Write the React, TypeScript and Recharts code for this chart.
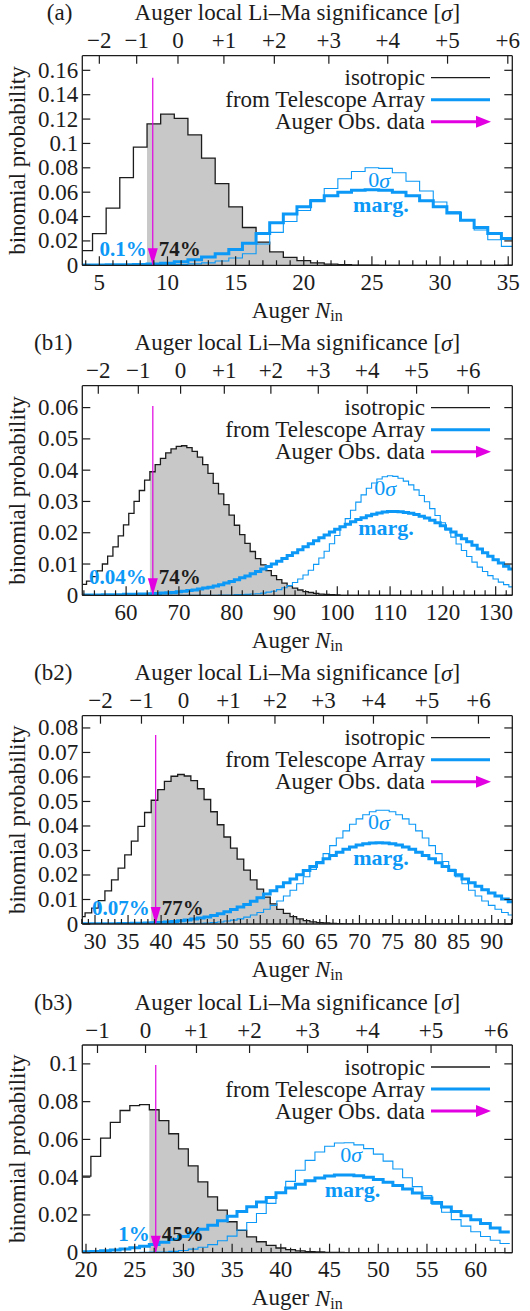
import React from 'react';
import {
  ComposedChart,
  Line,
  Area,
  XAxis,
  YAxis,
  ReferenceLine,
  ReferenceDot,
  Legend,
} from 'recharts';

const FONT = '"Liberation Serif", "Times New Roman", serif';
const INK = '#1c1c1c';
const BLUE = '#0b98f6';
const MAGENTA = '#e200e2';
const GREY = '#c8c8c8';
const W = 530;

// consecutive integer bins / tick positions
const span = (a: number, b: number, step = 1) => {
  const out: number[] = [];
  for (let v = a; v <= b; v += step) out.push(v);
  return out;
};

// ---------- (a) ----------
const binsA = span(4, 35);
const isoA = [
  0.012, 0.026, 0.047, 0.072, 0.097, 0.116, 0.124, 0.1205, 0.107, 0.088,
  0.067, 0.048, 0.031, 0.019, 0.011, 0.0065, 0.0038, 0.002, 0.001, 0.0005,
  0.0002, 0.0001, 0, 0, 0, 0, 0, 0, 0, 0,
  0, 0,
];
const margA = [
  0.0002, 0.0003, 0.0004, 0.0005, 0.0007, 0.001, 0.0017, 0.003, 0.0045, 0.0068,
  0.0095, 0.013, 0.018, 0.026, 0.035, 0.042, 0.048, 0.053, 0.057, 0.06,
  0.0615, 0.062, 0.0615, 0.06, 0.057, 0.053, 0.048, 0.043, 0.037, 0.031,
  0.026, 0.022,
];
const zeroA = [
  0, 0, 0, 0, 0.0001, 0.0002, 0.0004, 0.0007, 0.0012, 0.002,
  0.0035, 0.006, 0.0095, 0.0175, 0.027, 0.036, 0.045, 0.054, 0.063, 0.071,
  0.077, 0.08, 0.0795, 0.076, 0.069, 0.061, 0.052, 0.044, 0.037, 0.029,
  0.021, 0.0155,
];
const sigmaAtA = [5.0, 7.74, 10.77, 14.14, 17.84, 21.84, 26.16, 30.55, 34.97];
const sigmaTextA = ['−2', '−1', '0', '+1', '+2', '+3', '+4', '+5', '+6'];
const yTicksA = [0, 0.02, 0.04, 0.06, 0.08, 0.1, 0.12, 0.14, 0.16];

// ---------- (b1) ----------
const binsB1 = span(52, 133);
const isoB1 = [
  0.0035, 0.0045, 0.006, 0.0078, 0.01, 0.0125, 0.0155, 0.019, 0.0225, 0.0262,
  0.03, 0.0335, 0.0368, 0.0395, 0.0418, 0.0438, 0.0455, 0.0468, 0.0476, 0.0478,
  0.0472, 0.046, 0.0442, 0.0418, 0.039, 0.0358, 0.0324, 0.029, 0.0256, 0.0224,
  0.0194, 0.0166, 0.014, 0.0117, 0.0097, 0.0079, 0.0063, 0.005, 0.0039, 0.003,
  0.0023, 0.0017, 0.0012, 0.0009, 0.0006, 0.0004, 0.0003, 0.0002, 0.0001, 0,
  0, 0, 0, 0, 0, 0, 0, 0, 0, 0,
  0, 0, 0, 0, 0, 0, 0, 0, 0, 0,
  0, 0, 0, 0, 0, 0, 0, 0, 0, 0,
  0, 0,
];
const margB1 = [
  0.0001, 0.0001, 0.0001, 0.0001, 0.0002, 0.0002, 0.0002, 0.0002, 0.0003, 0.0003,
  0.0003, 0.0004, 0.0004, 0.0005, 0.0006, 0.0007, 0.0008, 0.0009, 0.0011, 0.0013,
  0.0015, 0.0017, 0.002, 0.0023, 0.0026, 0.003, 0.0034, 0.0039, 0.0044, 0.005,
  0.0056, 0.0062, 0.0069, 0.0076, 0.0084, 0.0092, 0.01, 0.0109, 0.0118, 0.0127,
  0.0136, 0.0146, 0.0155, 0.0165, 0.0174, 0.0184, 0.0193, 0.0202, 0.0211, 0.0219,
  0.0227, 0.0235, 0.0242, 0.0248, 0.0254, 0.0259, 0.0263, 0.0266, 0.0268, 0.0268,
  0.0267, 0.0265, 0.0262, 0.0258, 0.0253, 0.0247, 0.024, 0.0232, 0.0222, 0.0212,
  0.0202, 0.0192, 0.0181, 0.0171, 0.016, 0.0148, 0.0136, 0.0125, 0.0114, 0.0103,
  0.0093, 0.0084,
];
const zeroB1 = [
  0, 0, 0, 0, 0, 0, 0, 0, 0, 0,
  0, 0, 0, 0, 0, 0, 0, 0, 0, 0,
  0, 0, 0, 0, 0, 0, 0.0001, 0.0001, 0.0001, 0.0002,
  0.0002, 0.0003, 0.0004, 0.0005, 0.0007, 0.001, 0.0013, 0.0018, 0.0024, 0.0031,
  0.0041, 0.0052, 0.0065, 0.008, 0.0099, 0.0119, 0.0141, 0.0165, 0.0191, 0.0218,
  0.0245, 0.0272, 0.0298, 0.0321, 0.0342, 0.0359, 0.0372, 0.0379, 0.0382, 0.038,
  0.0374, 0.0365, 0.0353, 0.0337, 0.0319, 0.0299, 0.0277, 0.0255, 0.0232, 0.0209,
  0.0186, 0.0164, 0.0143, 0.0124, 0.0106, 0.009, 0.0076, 0.0063, 0.0052, 0.0042,
  0.0034, 0.0027,
];
const sigmaAtB1 = [54.73, 62.31, 70.32, 78.6, 87.42, 96.4, 105.68, 115.02, 124.81];
const yTicksB1 = [0, 0.01, 0.02, 0.03, 0.04, 0.05, 0.06];

// ---------- (b2) ----------
const binsB2 = span(28, 93);
const isoB2 = [
  0.003, 0.0045, 0.0065, 0.0095, 0.0135, 0.018, 0.0228, 0.0282, 0.0338, 0.0398,
  0.0455, 0.0505, 0.0548, 0.0582, 0.0603, 0.061, 0.0604, 0.0585, 0.0552, 0.0508,
  0.0458, 0.0405, 0.0355, 0.031, 0.0265, 0.022, 0.018, 0.0142, 0.011, 0.0082,
  0.006, 0.0043, 0.003, 0.0021, 0.0014, 0.0009, 0.0006, 0.0004, 0.0002, 0.0001,
  0, 0, 0, 0, 0, 0, 0, 0, 0, 0,
  0, 0, 0, 0, 0, 0, 0, 0, 0, 0,
  0, 0, 0, 0, 0, 0,
];
const margB2 = [
  0.0001, 0.0001, 0.0001, 0.0001, 0.0001, 0.0001, 0.0002, 0.0002, 0.0003, 0.0003,
  0.0004, 0.0005, 0.0006, 0.0008, 0.001, 0.0013, 0.0016, 0.002, 0.0024, 0.0029,
  0.0035, 0.0042, 0.005, 0.0059, 0.0069, 0.008, 0.0093, 0.0107, 0.0122, 0.0136,
  0.0152, 0.0168, 0.0184, 0.0201, 0.0218, 0.0235, 0.025, 0.0266, 0.028, 0.0293,
  0.0305, 0.0314, 0.0322, 0.0327, 0.0331, 0.0332, 0.0331, 0.0327, 0.0322, 0.0314,
  0.0305, 0.0293, 0.028, 0.0266, 0.025, 0.0235, 0.0218, 0.0201, 0.0184, 0.0168,
  0.0154, 0.014, 0.0127, 0.0114, 0.0102, 0.0091,
];
const zeroB2 = [
  0, 0, 0, 0, 0, 0, 0, 0, 0, 0,
  0, 0, 0, 0, 0, 0, 0.0001, 0.0002, 0.0003, 0.0004,
  0.0006, 0.0008, 0.0012, 0.0016, 0.0021, 0.0028, 0.0037, 0.0047, 0.006, 0.0076,
  0.0094, 0.0114, 0.0138, 0.0164, 0.0193, 0.0223, 0.0255, 0.0287, 0.032, 0.0351,
  0.038, 0.0407, 0.0429, 0.0446, 0.0458, 0.0464, 0.0464, 0.0458, 0.0446, 0.0429,
  0.0407, 0.038, 0.0351, 0.032, 0.0287, 0.0255, 0.0223, 0.0193, 0.0164, 0.0138,
  0.0114, 0.0094, 0.0076, 0.006, 0.0047, 0.0037,
];
const sigmaAtB2 = [30.83, 37.03, 43.38, 50.19, 57.22, 64.56, 72.12, 80.21, 88.0];
const yTicksB2 = [0, 0.01, 0.02, 0.03, 0.04, 0.05, 0.06, 0.07, 0.08];

// ---------- (b3) ----------
const binsB3 = span(20, 63);
const isoB3 = [
  0.0406, 0.051, 0.0607, 0.069, 0.0753, 0.0779, 0.0784, 0.0757, 0.07, 0.063,
  0.055, 0.046, 0.0375, 0.0296, 0.0225, 0.0164, 0.0118, 0.0084, 0.0058, 0.0039,
  0.0025, 0.0016, 0.001, 0.0006, 0.0004, 0.0002, 0.0001, 0, 0, 0,
  0, 0, 0, 0, 0, 0, 0, 0, 0, 0,
  0, 0, 0, 0,
];
const margB3 = [
  0.0005, 0.0007, 0.001, 0.0014, 0.0019, 0.0026, 0.0034, 0.0044, 0.0056, 0.007,
  0.0086, 0.0104, 0.0124, 0.0146, 0.0169, 0.0193, 0.0218, 0.0243, 0.0268, 0.0293,
  0.0318, 0.0342, 0.0363, 0.0381, 0.0396, 0.0406, 0.0412, 0.0412, 0.0408, 0.04,
  0.0388, 0.0373, 0.0356, 0.0337, 0.0316, 0.029, 0.0266, 0.0242, 0.0218, 0.0196,
  0.0174, 0.0154, 0.0131, 0.011,
];
const zeroB3 = [
  0, 0, 0, 0, 0, 0.0001, 0.0002, 0.0003, 0.0004, 0.0007,
  0.0012, 0.0019, 0.0029, 0.0043, 0.0063, 0.0088, 0.012, 0.016, 0.0208, 0.0261,
  0.0319, 0.0378, 0.0437, 0.0489, 0.0533, 0.0564, 0.0581, 0.0582, 0.0571, 0.0551,
  0.0522, 0.0485, 0.0443, 0.0397, 0.035, 0.0303, 0.0257, 0.0214, 0.0175, 0.0141,
  0.0111, 0.0086, 0.0066, 0.0049,
];
const sigmaAtB3 = [21.18, 26.11, 31.34, 36.79, 42.74, 48.9, 55.42, 62.09];
const sigmaTextB3 = ['−1', '0', '+1', '+2', '+3', '+4', '+5', '+6'];
const yTicksB3 = [0, 0.02, 0.04, 0.06, 0.08, 0.1];

interface PanelCfg {
  tag: string;
  bins: number[];
  iso: number[];
  marg: number[];
  zero: number[];
  obs: number;
  arrowX: number;
  arrowTop: number;
  xDomain: [number, number];
  xMajor: number[];
  xMinor: number[];
  yMax: number;
  yTicks: number[];
  sigmaAt: number[];
  sigmaText: string[];
  lowPct: string;
  highPct: string;
  pctY: number;
  zeroAt: [number, number];
  margAt: [number, number];
  height: number;
  top: number;
  bottom: number;
}

const PANELS: PanelCfg[] = [
  {
    tag: '(a)', bins: binsA, iso: isoA, marg: margA, zero: zeroA,
    obs: 9, arrowX: 8.92, arrowTop: 0.154, xDomain: [3.75, 35.3],
    xMajor: [5, 10, 15, 20, 25, 30, 35], xMinor: span(4, 35),
    yMax: 0.172, yTicks: yTicksA, sigmaAt: sigmaAtA, sigmaText: sigmaTextA,
    lowPct: '0.1%', highPct: '74%', pctY: 0.0134,
    zeroAt: [25.54, 0.07], margAt: [25.66, 0.0503],
    height: 330, top: 25.7, bottom: 24.7,
  },
  {
    tag: '(b1)', bins: binsB1, iso: isoB1, marg: margB1, zero: zeroB1,
    obs: 65, arrowX: 65.06, arrowTop: 0.0605, xDomain: [51.7, 133.15],
    xMajor: [60, 70, 80, 90, 100, 110, 120, 130], xMinor: span(52, 132, 2),
    yMax: 0.067, yTicks: yTicksB1, sigmaAt: sigmaAtB1, sigmaText: sigmaTextA,
    lowPct: '0.04%', highPct: '74%', pctY: 0.0059,
    zeroAt: [109.05, 0.0344], margAt: [109.24, 0.0218],
    height: 330, top: 25.7, bottom: 24.7,
  },
  {
    tag: '(b2)', bins: binsB2, iso: isoB2, marg: margB2, zero: zeroB2,
    obs: 39, arrowX: 39.18, arrowTop: 0.0771, xDomain: [28.08, 93.12],
    xMajor: [30, 35, 40, 45, 50, 55, 60, 65, 70, 75, 80, 85, 90], xMinor: span(28, 93),
    yMax: 0.085, yTicks: yTicksB2, sigmaAt: sigmaAtB2, sigmaText: sigmaTextA,
    lowPct: '0.07%', highPct: '77%', pctY: 0.0065,
    zeroAt: [72.95, 0.0418], margAt: [73.25, 0.0273],
    height: 329, top: 25.7, bottom: 25,
  },
  {
    tag: '(b3)', bins: binsB3, iso: isoB3, marg: margB3, zero: zeroB3,
    obs: 27, arrowX: 27.16, arrowTop: 0.0994, xDomain: [19.62, 63.76],
    xMajor: [20, 25, 30, 35, 40, 45, 50, 55, 60], xMinor: span(20, 63),
    yMax: 0.11, yTicks: yTicksB3, sigmaAt: sigmaAtB3, sigmaText: sigmaTextB3,
    lowPct: '1%', highPct: '45%', pctY: 0.0099,
    zeroAt: [47.21, 0.0521], margAt: [47.36, 0.0336],
    height: 322, top: 26, bottom: 18.3,
  },
];

// rows at bin left edges for stepAfter, plus a closing row at the last right edge
const buildRows = (p: PanelCfg) => {
  const rows: any[] = p.bins.map((b, i) => ({
    x: b - 0.5,
    iso: p.iso[i],
    marg: p.marg[i],
    zero: p.zero[i],
    shade: b >= p.obs ? p.iso[i] : null,
  }));
  const last = rows[rows.length - 1];
  rows.push({ ...last, x: last.x + 1 });
  return rows;
};

const serif = { fontFamily: FONT };
const txt = { style: serif, fill: INK };

const BottomTick = ({ x, y, payload, majors }: any) => {
  const base = y - 17;
  const big = majors.includes(payload.value);
  return (
    <g>
      <line x1={x} x2={x} y1={base} y2={base - (big ? 9 : 5)} stroke={INK} strokeWidth={1.2} />
      {big && (
        <text x={x} y={y} textAnchor="middle" dominantBaseline="central" fontSize={23} {...txt}>
          {payload.value}
        </text>
      )}
    </g>
  );
};

const TopTick = ({ x, y, payload, at, labels }: any) => {
  const base = y + 15;
  const i = at.indexOf(payload.value);
  return (
    <g>
      <line x1={x} x2={x} y1={base} y2={base + 8} stroke={INK} strokeWidth={1.2} />
      <text x={x} y={y} textAnchor="middle" dominantBaseline="central" fontSize={23} {...txt}>
        {labels[i]}
      </text>
    </g>
  );
};

const LeftTick = ({ x, y, payload }: any) => {
  const base = x + 4;
  return (
    <g>
      <line x1={base} x2={base + 8} y1={y} y2={y} stroke={INK} strokeWidth={1.2} />
      <text x={x} y={y} textAnchor="end" dominantBaseline="central" fontSize={23} {...txt}>
        {String(payload.value)}
      </text>
    </g>
  );
};

const RightTick = ({ x, y }: any) => (
  <line x1={x} x2={x - 8} y1={y} y2={y} stroke={INK} strokeWidth={1.2} />
);

const LegendBox = ({ plotTop }: { plotTop: number }) => {
  const rows = [plotTop + 22, plotTop + 44, plotTop + 66];
  const names = ['isotropic', 'from Telescope Array', 'Auger Obs. data'];
  return (
    <svg width={W} height={plotTop + 90} style={{ display: 'block' }}>
      {names.map((n, i) => (
        <text
          key={n}
          x={425}
          y={rows[i]}
          textAnchor="end"
          dominantBaseline="central"
          fontSize={23}
          {...txt}
        >
          {n}
        </text>
      ))}
      <line x1={431} x2={490} y1={rows[0]} y2={rows[0]} stroke={INK} strokeWidth={1.3} />
      <line x1={431} x2={490} y1={rows[1]} y2={rows[1]} stroke={BLUE} strokeWidth={3} />
      <line x1={431} x2={478} y1={rows[2]} y2={rows[2]} stroke={MAGENTA} strokeWidth={3} />
      <polygon
        points={`${476},${rows[2] - 6} ${491},${rows[2]} ${476},${rows[2] + 6}`}
        fill={MAGENTA}
      />
    </svg>
  );
};

const Panel = ({ p }: { p: PanelCfg }) => {
  const rows = buildRows(p);
  const plotTop = p.top + 30;
  const ticksAll = Array.from(new Set([...p.xMinor, ...p.xMajor])).sort((a, b) => a - b);

  return (
    <ComposedChart
      width={W}
      height={p.height}
      data={rows}
      margin={{ top: p.top, right: 7.7, bottom: p.bottom, left: 12.3 }}
      style={serif}
    >
      <XAxis
        xAxisId="b"
        dataKey="x"
        type="number"
        domain={p.xDomain}
        allowDataOverflow
        ticks={ticksAll}
        interval={0}
        tickSize={0}
        tickMargin={17}
        height={40}
        axisLine={{ stroke: INK, strokeWidth: 1.3 }}
        tick={(t: any) => <BottomTick {...t} majors={p.xMajor} />}
        label={(lp: any) => {
          const vb = lp.viewBox;
          return (
            <text
              x={vb.x + vb.width / 2}
              y={vb.y + 45}
              textAnchor="middle"
              dominantBaseline="central"
              fontSize={23}
              {...txt}
            >
              Auger <tspan fontStyle="italic">N</tspan>
              <tspan fontSize={16} dy={5}>in</tspan>
            </text>
          );
        }}
      />
      <XAxis
        xAxisId="t"
        dataKey="x"
        orientation="top"
        type="number"
        domain={p.xDomain}
        allowDataOverflow
        ticks={p.sigmaAt}
        interval={0}
        tickSize={0}
        tickMargin={15}
        height={30}
        axisLine={{ stroke: INK, strokeWidth: 1.3 }}
        tick={(t: any) => <TopTick {...t} at={p.sigmaAt} labels={p.sigmaText} />}
        label={(lp: any) => {
          const vb = lp.viewBox;
          const top = vb.y + vb.height;
          return (
            <g>
              <text x={vb.x - 10} y={top - 43} textAnchor="end" dominantBaseline="central" fontSize={23} {...txt}>
                {p.tag}
              </text>
              <text x={vb.x + vb.width / 2} y={top - 43} textAnchor="middle" dominantBaseline="central" fontSize={23} {...txt}>
                Auger local Li–Ma significance [<tspan fontStyle="italic">σ</tspan>]
              </text>
            </g>
          );
        }}
      />
      <YAxis
        yAxisId="l"
        type="number"
        domain={[0, p.yMax]}
        allowDataOverflow
        ticks={p.yTicks}
        interval={0}
        tickSize={0}
        tickMargin={4}
        width={70}
        axisLine={{ stroke: INK, strokeWidth: 1.3 }}
        tick={(t: any) => <LeftTick {...t} />}
        label={(lp: any) => {
          const vb = lp.viewBox;
          const cx = vb.x + 5;
          const cy = vb.y + vb.height / 2;
          return (
            <text
              x={cx}
              y={cy}
              transform={`rotate(-90 ${cx} ${cy})`}
              textAnchor="middle"
              dominantBaseline="central"
              fontSize={23}
              {...txt}
            >
              binomial probability
            </text>
          );
        }}
      />
      <YAxis
        yAxisId="r"
        orientation="right"
        type="number"
        domain={[0, p.yMax]}
        allowDataOverflow
        ticks={p.yTicks}
        interval={0}
        tickSize={0}
        tickMargin={0}
        width={10}
        axisLine={{ stroke: INK, strokeWidth: 1.3 }}
        tick={(t: any) => <RightTick {...t} />}
      />

      {/* shaded isotropic tail above the observed count */}
      <Area
        xAxisId="b"
        yAxisId="l"
        dataKey="shade"
        type="stepAfter"
        fill={GREY}
        fillOpacity={1}
        stroke="none"
        connectNulls={false}
        isAnimationActive={false}
      />
      <Line
        xAxisId="b"
        yAxisId="l"
        dataKey="iso"
        type="stepAfter"
        stroke={INK}
        strokeWidth={1.3}
        dot={false}
        activeDot={false}
        isAnimationActive={false}
      />
      <Line
        xAxisId="b"
        yAxisId="l"
        dataKey="zero"
        type="stepAfter"
        stroke={BLUE}
        strokeWidth={1.1}
        dot={false}
        activeDot={false}
        isAnimationActive={false}
      />
      <Line
        xAxisId="b"
        yAxisId="l"
        dataKey="marg"
        type="stepAfter"
        stroke={BLUE}
        strokeWidth={3}
        dot={false}
        activeDot={false}
        isAnimationActive={false}
      />

      <ReferenceLine
        xAxisId="b"
        yAxisId="l"
        segment={[{ x: p.arrowX, y: 0 }, { x: p.arrowX, y: p.arrowTop }]}
        stroke={MAGENTA}
        strokeWidth={1.2}
      />
      <ReferenceDot
        xAxisId="b"
        yAxisId="l"
        x={p.arrowX}
        y={0}
        r={0}
        shape={(s: any) => (
          <polygon
            points={`${s.cx},${s.cy} ${s.cx - 5},${s.cy - 17} ${s.cx + 5},${s.cy - 17}`}
            fill={MAGENTA}
          />
        )}
      />
      <ReferenceDot
        xAxisId="b"
        yAxisId="l"
        x={p.arrowX}
        y={p.pctY}
        r={0}
        shape={(s: any) => (
          <g>
            <text x={s.cx - 6} y={s.cy} textAnchor="end" dominantBaseline="central" fontWeight="bold" fontSize={21} style={serif} fill={BLUE}>
              {p.lowPct}
            </text>
            <text x={s.cx + 6} y={s.cy} textAnchor="start" dominantBaseline="central" fontWeight="bold" fontSize={21} style={serif} fill={INK}>
              {p.highPct}
            </text>
          </g>
        )}
      />
      <ReferenceDot
        xAxisId="b"
        yAxisId="l"
        x={p.zeroAt[0]}
        y={p.zeroAt[1]}
        r={0}
        shape={(s: any) => (
          <text x={s.cx} y={s.cy} textAnchor="middle" dominantBaseline="central" fontSize={22} style={serif} fill={BLUE}>
            0<tspan fontStyle="italic">σ</tspan>
          </text>
        )}
      />
      <ReferenceDot
        xAxisId="b"
        yAxisId="l"
        x={p.margAt[0]}
        y={p.margAt[1]}
        r={0}
        shape={(s: any) => (
          <text x={s.cx} y={s.cy} textAnchor="middle" dominantBaseline="central" fontWeight="bold" fontSize={22} style={serif} fill={BLUE}>
            marg.
          </text>
        )}
      />
      <Legend
        layout="horizontal"
        verticalAlign="middle"
        align="center"
        wrapperStyle={{ position: 'absolute', left: 0, top: 0, width: W, height: plotTop + 90, pointerEvents: 'none' }}
        content={() => <LegendBox plotTop={plotTop} />}
      />
    </ComposedChart>
  );
};

export default function App() {
  return (
    <div style={{ width: W, background: '#fff' }}>
      <style>{'body{margin:0;background:#fff}'}</style>
      {PANELS.map((p) => (
        <Panel key={p.tag} p={p} />
      ))}
    </div>
  );
}
